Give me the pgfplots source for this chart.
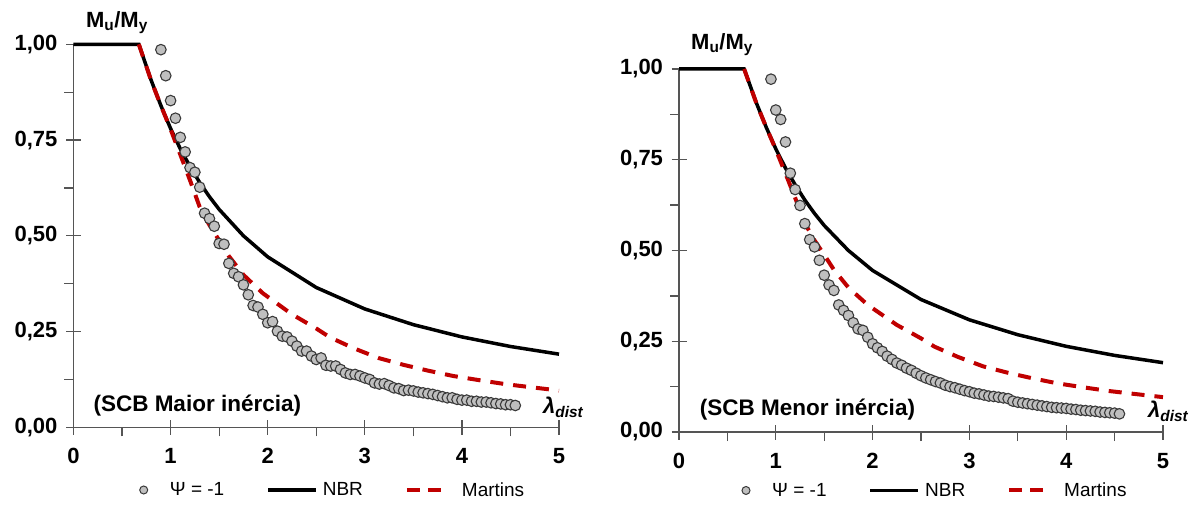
\documentclass[border=0pt]{standalone}
\usepackage{pgfplots}
\pgfplotsset{compat=1.18}
\usepackage{pgfplotstable}
\usepackage{fontspec}
\setmainfont{Liberation Sans}

\definecolor{mred}{HTML}{C00000}
\definecolor{mgray}{HTML}{BFBFBF}
\definecolor{medge}{HTML}{3A3A3A}
\definecolor{axgray}{HTML}{555555}

\pgfplotstableread{
x y
0 1
0.673 1
0.8 0.906
0.9 0.840
1.0 0.780
1.1 0.727
1.2 0.681
1.3 0.639
1.4 0.602
1.5 0.569
1.75 0.500
2.0 0.445
2.5 0.365
3.0 0.309
3.5 0.268
4.0 0.236
4.5 0.211
5.0 0.191
}\nbr

\pgfplotstableread{
x y
0.673 1.000
0.8 0.905
0.9 0.840
1.0 0.778
1.1 0.712
1.2 0.645
1.3 0.575
1.4 0.528
1.5 0.488
1.6 0.447
1.75 0.398
1.95 0.350
2.25 0.295
2.5 0.258
2.64 0.235
2.88 0.207
3.14 0.181
3.40 0.163
3.65 0.148
3.91 0.134
4.18 0.123
4.44 0.113
4.70 0.105
5.0 0.096
}\martins

\pgfplotstableread{
x y
0.90 0.986
0.95 0.918
1.00 0.853
1.05 0.807
1.10 0.757
1.15 0.719
1.20 0.678
1.25 0.666
1.30 0.627
1.35 0.559
1.40 0.545
1.45 0.525
1.50 0.480
1.55 0.478
1.60 0.428
1.65 0.402
1.70 0.393
1.75 0.372
1.80 0.346
1.85 0.318
1.90 0.314
1.95 0.295
2.00 0.273
2.05 0.276
2.10 0.251
2.15 0.238
2.20 0.236
2.25 0.225
2.30 0.212
2.35 0.199
2.40 0.199
2.45 0.186
2.50 0.177
2.55 0.181
2.60 0.162
2.65 0.160
2.70 0.160
2.75 0.151
2.80 0.142
2.85 0.138
2.90 0.138
2.95 0.134
3.00 0.129
3.05 0.125
3.10 0.116
3.15 0.113
3.20 0.114
3.25 0.109
3.30 0.103
3.35 0.101
3.40 0.096
3.45 0.097
3.50 0.095
3.55 0.092
3.60 0.090
3.65 0.088
3.70 0.086
3.75 0.083
3.80 0.080
3.85 0.077
3.90 0.077
3.95 0.073
4.00 0.071
4.05 0.071
4.10 0.068
4.15 0.068
4.20 0.066
4.25 0.066
4.30 0.064
4.35 0.062
4.40 0.061
4.45 0.059
4.50 0.059
4.55 0.057
}\psimaior

\pgfplotstableread{
x y
0.95 0.972
1.00 0.887
1.05 0.861
1.10 0.799
1.15 0.713
1.20 0.668
1.25 0.624
1.30 0.574
1.35 0.530
1.40 0.510
1.45 0.473
1.50 0.432
1.55 0.405
1.60 0.390
1.65 0.350
1.70 0.335
1.75 0.321
1.80 0.301
1.85 0.284
1.90 0.280
1.95 0.261
2.00 0.243
2.05 0.232
2.10 0.222
2.15 0.209
2.20 0.200
2.25 0.190
2.30 0.184
2.35 0.176
2.40 0.170
2.45 0.162
2.50 0.155
2.55 0.149
2.60 0.144
2.65 0.139
2.70 0.135
2.75 0.129
2.80 0.125
2.85 0.122
2.90 0.118
2.95 0.114
3.00 0.111
3.05 0.107
3.10 0.105
3.15 0.102
3.20 0.099
3.25 0.098
3.30 0.096
3.35 0.094
3.40 0.092
3.45 0.085
3.50 0.082
3.55 0.080
3.60 0.078
3.65 0.076
3.70 0.074
3.75 0.072
3.80 0.070
3.85 0.068
3.90 0.067
3.95 0.066
4.00 0.065
4.05 0.063
4.10 0.062
4.15 0.060
4.20 0.059
4.25 0.058
4.30 0.057
4.35 0.055
4.40 0.054
4.45 0.053
4.50 0.052
4.55 0.050
}\psimenor

\pgfplotsset{
  panel/.style={
    scale only axis,
    xmin=0, xmax=5, ymin=0, ymax=1,
    axis x line*=bottom, axis y line*=left,
    axis line style={-, axgray, line width=1.3pt},
    xtick={0,1,2,3,4,5}, xticklabels={0,1,2,3,4,5},
    ytick={0,0.25,0.5,0.75,1},
    yticklabels={{0,00},{0,25},{0,50},{0,75},{1,00}},
    minor xtick={0.5,1.5,2.5,3.5,4.5},
    minor ytick={0.125,0.375,0.625,0.875},
    tick align=center, major tick length=15pt, minor tick length=9pt,
    every tick/.style={axgray, line width=1.3pt},
    minor x tick style={yshift=-4.5pt},
    minor y tick style={xshift=-4.5pt},
    tick label style={font=\fontsize{22}{24}\selectfont\bfseries},
    xticklabel style={yshift=-10pt},
    yticklabel style={xshift=-5pt},
    clip=false,
    legend columns=3,
    legend style={draw=none, fill=none, font=\fontsize{19}{21}\selectfont,
      anchor=north, inner sep=0pt,
      /tikz/every odd column/.append style={column sep=3pt},
      /tikz/every even column/.append style={column sep=40pt}},
  },
  nbrline/.style={black, line width=3.5pt},
  martline/.style={mred, line width=4pt, dash pattern=on 13pt off 10pt},
  psimark/.style={only marks, mark=*, mark size=5.3pt,
    mark options={fill=mgray, draw=medge, line width=1.1pt}},
  psileg/.style={legend image code/.code={\draw[##1] plot coordinates {(12pt,0pt)}; \path (0pt,0pt) (33pt,0pt);}},
  nbrleg/.style={legend image code/.code={\draw[##1] (0pt,0pt) -- (48pt,0pt);}},
  martleg/.style={legend image code/.code={\draw[##1] (0pt,0pt) -- (13pt,0pt) (21pt,0pt) -- (34pt,0pt); \path (48pt,0pt);}},
}

\newcommand{\legendentries}{%
  \addlegendimage{only marks, mark=*, mark size=4pt,
    mark options={fill=mgray, draw=medge, line width=1pt}, psileg}
  \addlegendentry{Ψ = -1}
  \addlegendimage{nbrline, nbrleg}
  \addlegendentry{NBR}
  \addlegendimage{mred, line width=4pt, martleg}
  \addlegendentry{Martins}
}

\begin{document}
\begin{tikzpicture}
\useasboundingbox (0pt,0pt) rectangle (1196pt,504pt);

\begin{axis}[panel, at={(73.5pt,76.7pt)}, anchor=south west,
  width=485.5pt, height=383pt,
  legend style={at={(0.526,-0.138)}}]
  \legendentries
  \addplot[nbrline, forget plot] table {\nbr};
  \addplot[martline, forget plot] table {\martins};
  \addplot[psimark, forget plot] table {\psimaior};
  \node[font=\fontsize{22}{24}\selectfont\bfseries] at (rel axis cs:0.0896,1.0575) {M\textsubscript{u}/M\textsubscript{y}};
  \node[font=\fontsize{22.5}{24}\selectfont\bfseries] at (rel axis cs:0.255,0.058) {(SCB Maior inércia)};
  \node[font=\fontsize{22}{24}\selectfont\bfseries\itshape, anchor=west, inner sep=0pt] at (rel axis cs:0.967,0.053) {λ\textsubscript{dist}};
\end{axis}

\begin{axis}[panel, at={(679pt,72pt)}, anchor=south west,
  width=484pt, height=363pt,
  legend style={at={(0.521,-0.134)}}]
  \legendentries
  \addplot[nbrline, forget plot] table {\nbr};
  \addplot[martline, forget plot] table {\martins};
  \addplot[psimark, forget plot] table {\psimenor};
  \node[font=\fontsize{22}{24}\selectfont\bfseries] at (rel axis cs:0.089,1.066) {M\textsubscript{u}/M\textsubscript{y}};
  \node[font=\fontsize{22.5}{24}\selectfont\bfseries] at (rel axis cs:0.2655,0.063) {(SCB Menor inércia)};
  \node[font=\fontsize{22}{24}\selectfont\bfseries\itshape, anchor=west, inner sep=0pt] at (rel axis cs:0.969,0.058) {λ\textsubscript{dist}};
\end{axis}
\end{tikzpicture}
\end{document}
